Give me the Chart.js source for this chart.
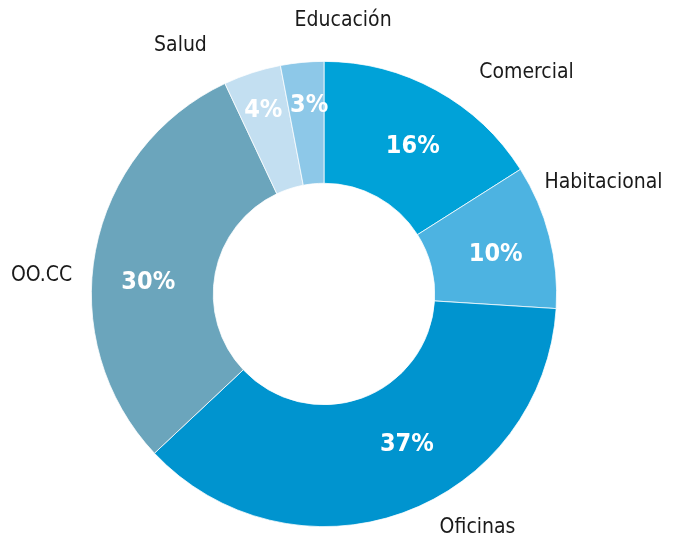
<!DOCTYPE html>
<html>
<head>
<meta charset="utf-8">
<script src="https://cdn.jsdelivr.net/npm/chart.js@4"></script>
<style>
  html, body { margin: 0; padding: 0; background: #ffffff; }
  #wrap { width: 677px; height: 543px; }
</style>
</head>
<body>
<div id="wrap"><canvas id="c" width="677" height="543"></canvas></div>
<script>
// ---- data ----
const categories = ['Comercial', 'Habitacional', 'Oficinas', 'OO.CC', 'Salud', 'Educación'];
const values = [16, 10, 37, 30, 4, 3];
const colors = ['#00a2d8', '#4db3e1', '#0094cf', '#6ba5bc', '#c3dff1', '#8dc8e8'];

// ---- label layout (angle shift in degrees, distance as fraction of outer radius) ----
const pctShift = [2.2, 1.6, -9.0, -7.2, -0.3, 0.9];
const pctDist = [0.741, 0.757, 0.739, 0.757, 0.832, 0.814];
const catShift = [13.6, -7.4, -13.5, -7.0, -12.0, 9.4];
const catDist = [1.291, 1.294, 1.202, 1.217, 1.234, 1.179];

const FONT = '"DejaVu Sans Condensed", "DejaVu Sans", sans-serif';

const labelPlugin = {
  id: 'sliceLabels',
  afterDatasetsDraw(chart) {
    const ctx = chart.ctx;
    const meta = chart.getDatasetMeta(0);
    ctx.save();
    ctx.textAlign = 'center';
    ctx.textBaseline = 'middle';
    meta.data.forEach((arc, i) => {
      const p = arc.getProps(['x', 'y', 'startAngle', 'endAngle', 'outerRadius'], true);
      const mid = (p.startAngle + p.endAngle) / 2;
      // percentage inside
      let a = mid + pctShift[i] * Math.PI / 180;
      let r = p.outerRadius * pctDist[i];
      ctx.fillStyle = '#ffffff';
      ctx.font = 'bold 25px ' + FONT;
      ctx.fillText(values[i] + '%', p.x + Math.cos(a) * r, p.y + Math.sin(a) * r);
      // category outside
      a = mid + catShift[i] * Math.PI / 180;
      r = p.outerRadius * catDist[i];
      ctx.fillStyle = '#1a1a1a';
      ctx.font = '21px ' + FONT;
      ctx.fillText(categories[i], p.x + Math.cos(a) * r, p.y + Math.sin(a) * r);
    });
    ctx.restore();
  }
};

new Chart(document.getElementById('c'), {
  type: 'doughnut',
  data: {
    labels: categories,
    datasets: [{
      data: values,
      backgroundColor: colors,
      borderColor: '#ffffff',
      borderWidth: 0.75
    }]
  },
  options: {
    responsive: false,
    animation: false,
    cutout: '47.6%',
    layout: { padding: { top: 61, bottom: 16, left: 91, right: 120 } },
    plugins: {
      legend: { display: false },
      tooltip: { enabled: false }
    }
  },
  plugins: [labelPlugin]
});
</script>
</body>
</html>
